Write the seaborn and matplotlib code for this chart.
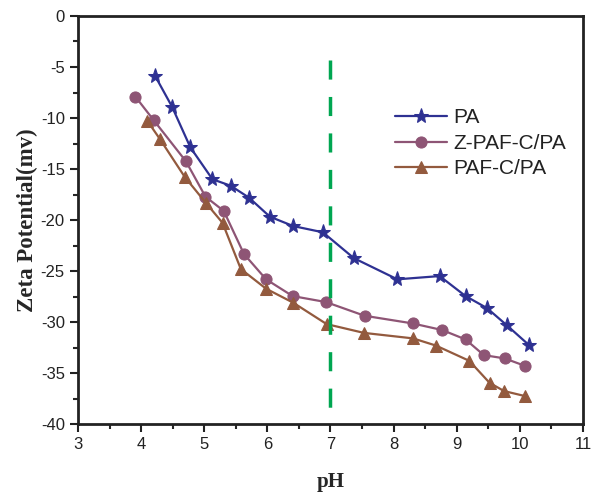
import numpy as np
import pandas as pd
import matplotlib
matplotlib.use("Agg")
import matplotlib.pyplot as plt
from matplotlib.ticker import MultipleLocator
import seaborn as sns

# ---- data ----
ph_pa = [4.22, 4.49, 4.78, 5.13, 5.42, 5.71, 6.04, 6.41, 6.88, 7.37, 8.06, 8.73, 9.14, 9.48, 9.79, 10.15]
zp_pa = [-5.85, -8.89, -12.87, -16.0, -16.64, -17.81, -19.67, -20.59, -21.2, -23.73, -25.81, -25.49, -27.45, -28.63, -30.29, -32.28]

ph_zpafc = [3.91, 4.20, 4.71, 5.02, 5.31, 5.63, 5.98, 6.40, 6.93, 7.54, 8.30, 8.77, 9.14, 9.43, 9.76, 10.09]
zp_zpafc = [-7.91, -10.22, -14.24, -17.71, -19.11, -23.33, -25.81, -27.45, -28.04, -29.38, -30.13, -30.78, -31.7, -33.24, -33.56, -34.31]

ph_pafc = [4.10, 4.30, 4.69, 5.03, 5.29, 5.58, 5.98, 6.41, 6.94, 7.53, 8.31, 8.67, 9.20, 9.52, 9.75, 10.08]
zp_pafc = [-10.29, -12.08, -15.76, -18.35, -20.27, -24.8, -26.73, -28.1, -30.2, -31.06, -31.6, -32.3, -33.8, -35.95, -36.76, -37.25]

series_names = ["PA", "Z-PAF-C/PA", "PAF-C/PA"]
x_ticks = [3, 4, 5, 6, 7, 8, 9, 10, 11]
y_ticks = [0, -5, -10, -15, -20, -25, -30, -35, -40]
vline_x = 7
vline_y = [-4.3, -39.1]

sns.set_theme(style="white")
plt.rcParams['font.family'] = ['Liberation Sans', 'DejaVu Sans']
plt.rcParams['axes.unicode_minus'] = False

fig = plt.figure(figsize=(5.93, 4.92), dpi=100)
ax = fig.add_axes([0.1315, 0.138, 0.8515, 0.8295])

colors = ["#2e3192", "#8e5575", "#935a3e"]
markers = ["*", "o", "^"]
msizes = [11, 8, 8.5]
datasets = [(ph_pa, zp_pa), (ph_zpafc, zp_zpafc), (ph_pafc, zp_pafc)]

for (xs, ys), name, c, m, ms in zip(datasets, series_names, colors, markers, msizes):
    df = pd.DataFrame({"pH": xs, "zeta": ys})
    sns.lineplot(data=df, x="pH", y="zeta", ax=ax, color=c, marker=m,
                 markersize=ms, markeredgecolor=c, linewidth=1.6,
                 label=name, sort=False)

ax.plot([vline_x, vline_x], vline_y, color="#00a651", linewidth=2.5,
        linestyle=(0, (5.5, 5)))

ax.set_xlim(3, 11)
ax.set_ylim(-40, 0)
ax.set_xticks(x_ticks)
ax.set_yticks(y_ticks)
ax.xaxis.set_minor_locator(MultipleLocator(0.5))
ax.yaxis.set_minor_locator(MultipleLocator(2.5))
ax.tick_params(axis="both", which="major", direction="out", length=6, width=1.5,
               labelsize=12, colors="#222222", bottom=True, left=True, top=False, right=False)
ax.tick_params(axis="both", which="minor", direction="out", length=3.5, width=1.5,
               bottom=True, left=True, top=False, right=False)
for sp in ax.spines.values():
    sp.set_visible(True)
    sp.set_linewidth(2)
    sp.set_color("#222222")

ax.set_xlabel("pH", fontfamily="Liberation Serif", fontweight="bold", fontsize=15, labelpad=14)
ax.set_ylabel("Zeta Potential(mv)", fontfamily="Liberation Serif", fontweight="bold", fontsize=16.5, labelpad=2)

leg = ax.legend(loc="center left", bbox_to_anchor=(0.627, 0.688), frameon=False,
                fontsize=15, handlelength=2.5, handletextpad=0.3, labelspacing=0.32,
                borderpad=0, borderaxespad=0)
for t in leg.get_texts():
    t.set_color("#222222")

fig.savefig("out.png", dpi=100)
